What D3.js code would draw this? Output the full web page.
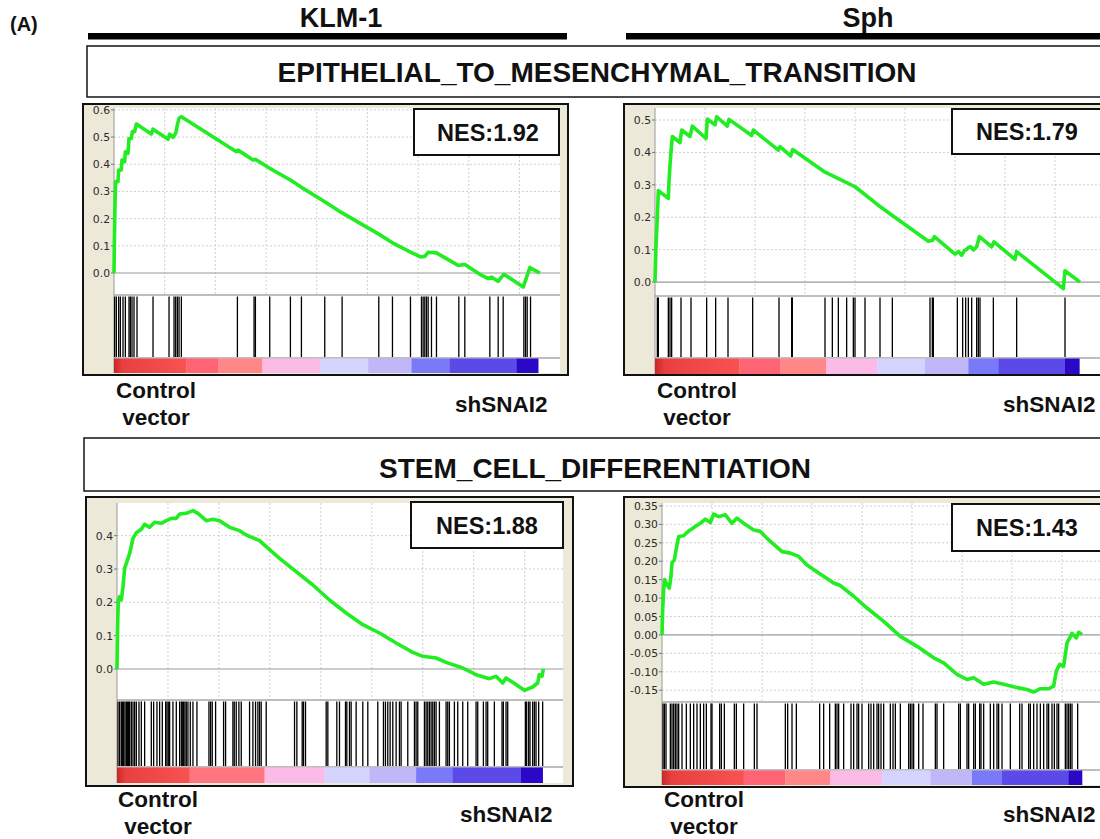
<!DOCTYPE html>
<html><head><meta charset="utf-8">
<script src="https://cdn.jsdelivr.net/npm/d3@7"></script>
<style>body{margin:0;background:#fff}svg{display:block}</style>
</head><body><svg id="c" width="1100" height="839"></svg>
<script>
// ---------------- DATA ----------------
const panelLetter = "(A)";
const cellLines = ["KLM-1", "Sph"];
const geneSets = ["EPITHELIAL_TO_MESENCHYMAL_TRANSITION", "STEM_CELL_DIFFERENTIATION"];
const phenotypeLeft = ["Control", "vector"];
const phenotypeRight = "shSNAI2";
const nesValues = [1.92, 1.79, 1.88, 1.43];

const yTicks1 = [0.0, 0.1, 0.2, 0.3, 0.4, 0.5, 0.6];
const yTicks2 = [0.0, 0.1, 0.2, 0.3, 0.4, 0.5];
const yTicks3 = [0.0, 0.1, 0.2, 0.3, 0.4];
const yTicks4 = [-0.15, -0.10, -0.05, 0.00, 0.05, 0.10, 0.15, 0.20, 0.25, 0.30, 0.35];

// running enrichment score: rank in ordered list, ES
const curve1Rank = [0,16,33,49,82,197,230,362,395,526,559,691,740,855,905,1020,1102,1842,1925,2665,2747,2912,3043,3125,3208,3323,6037,6120,6860,6975,7682,8702,9245,10396,11252,13061,13736,14624,15118,15331,15496,15907,16976,17305,18046,18457,18621,18950,19115,19230,19444,20184,20299,20398,20513,21006];
const curve1ES = [0,0.096,0.182,0.256,0.336,0.336,0.379,0.379,0.416,0.409,0.446,0.44,0.495,0.495,0.52,0.52,0.548,0.511,0.529,0.492,0.511,0.499,0.514,0.545,0.569,0.575,0.446,0.452,0.416,0.418,0.385,0.342,0.315,0.262,0.221,0.143,0.111,0.077,0.059,0.061,0.076,0.074,0.028,0.031,-0.005,-0.021,-0.015,-0.031,-0.015,-0.005,-0.015,-0.052,-0.027,-0.005,0.02,0.0];

const curve2Rank = [0,50,117,167,667,700,750,800,867,1250,1333,1750,1867,2550,2617,3000,3083,3617,3700,4833,4917,6167,6250,6783,6883,8450,8917,9583,10000,10417,11250,11833,13667,13883,13967,15000,15167,15333,15467,15583,15667,15783,15917,16083,16217,16833,16950,18000,18083,20417,20500,21250];
const curve2ES = [0,0.114,0.202,0.282,0.258,0.31,0.361,0.402,0.449,0.43,0.469,0.449,0.481,0.443,0.503,0.485,0.51,0.481,0.502,0.452,0.469,0.407,0.418,0.389,0.409,0.341,0.327,0.307,0.294,0.274,0.233,0.207,0.126,0.129,0.14,0.086,0.094,0.083,0.097,0.101,0.107,0.109,0.099,0.109,0.14,0.109,0.124,0.07,0.094,-0.02,0.035,0.0];

const curve3Rank = [0,33,65,131,212,294,376,458,621,784,948,1193,1356,1601,1846,2173,2418,2663,2909,3072,3399,3726,3971,4379,4706,5033,5523,6013,6340,6994,7320,7974,8791,9608,10425,11242,12059,12876,13693,14510,15000,15654,16144,16961,17615,18268,18595,18922,19085,19412,19984,20392,20637,20719,20850,20915];
const curve3ES = [0,0.138,0.207,0.217,0.207,0.247,0.302,0.317,0.347,0.392,0.409,0.419,0.434,0.425,0.44,0.437,0.445,0.452,0.452,0.465,0.467,0.475,0.467,0.445,0.449,0.445,0.425,0.415,0.402,0.385,0.367,0.332,0.292,0.252,0.207,0.168,0.133,0.108,0.078,0.05,0.038,0.033,0.02,0.003,-0.017,-0.029,-0.022,-0.042,-0.027,-0.04,-0.064,-0.054,-0.042,-0.017,-0.022,0.0];

const curve4Rank = [0,33,83,133,250,367,450,500,617,717,833,1083,1250,1417,1667,1917,2167,2417,2583,2833,3167,3500,3750,4083,4583,4917,5250,6000,6417,6833,7250,7833,8583,8917,9583,10250,11083,11917,12750,13583,14083,14750,15250,15583,16083,16583,17083,17750,18250,18583,18917,19333,19583,19717,19883,20083,20250,20500,20717,20833,21000];
const curve4ES = [0,0.069,0.123,0.15,0.136,0.127,0.159,0.195,0.204,0.235,0.267,0.269,0.278,0.285,0.294,0.303,0.314,0.305,0.328,0.321,0.326,0.303,0.317,0.303,0.285,0.281,0.262,0.226,0.222,0.213,0.19,0.168,0.141,0.134,0.105,0.073,0.037,-0.004,-0.031,-0.062,-0.076,-0.107,-0.121,-0.116,-0.134,-0.128,-0.134,-0.143,-0.148,-0.155,-0.146,-0.146,-0.139,-0.098,-0.08,-0.085,-0.022,0.004,-0.008,0.007,0.001];

// gene-set hit ranks
const hits1 = [33,115,230,313,444,559,740,806,888,987,1135,1925,2714,2961,3043,3126,3208,3323,6087,6909,6975,7682,8702,9245,10396,11252,13061,13736,14624,15167,15249,15331,15414,15496,15660,15907,17009,17305,18539,18950,19197,20217,20299,20381,20546];
const hits2 = [117,167,667,750,833,1300,1800,2583,3033,3650,4883,6200,6833,6867,8500,8867,9167,9583,9917,10000,10500,11250,11867,13750,13867,13917,15117,15383,15533,15667,15833,16083,16167,16250,16917,18083,20500];
const hits3 = [49,131,212,261,327,392,458,507,572,621,703,784,866,948,1078,1193,1356,1683,1797,1961,2091,2222,2386,2451,2516,2582,2745,2909,3072,3154,3203,3268,3333,3399,3480,3595,3726,3922,4510,4592,4673,4837,5229,5327,5686,5752,5850,5980,6095,6503,6667,6797,6912,6994,7075,7320,8709,8824,9085,9150,9248,10262,10343,10784,10915,11209,11275,11405,11487,11732,12059,12304,12794,13072,13170,13284,13399,13530,13693,13856,13938,14265,14592,14673,14755,15082,15164,15245,15327,15409,15490,15572,15654,15817,16144,16226,16307,16552,16716,16961,17206,17615,17697,17974,18105,18186,18513,18889,18954,19085,19167,20033,20098,20196,20262,20392,20474,20556,20686,20882];
const hits4 = [50,117,200,417,500,583,667,750,833,1000,1217,1417,1583,1750,1917,2083,2217,2450,2500,2883,2967,3117,3617,3717,4083,4617,4750,6167,6283,6500,6717,7883,8083,8383,8667,8750,8833,9083,9450,9583,9750,9833,10000,10333,10450,10583,10750,10833,10950,11083,11417,11550,11667,11917,12333,12417,12500,12583,12833,13050,13667,13750,14083,14833,14917,15250,15333,15583,15667,15883,15950,16083,16417,16583,16750,16833,17000,17417,17883,18000,18333,18417,18583,18750,18917,19083,19250,19333,19500,19617,19750,19833,20167,20250,20333,20417,20500,20783];

// ranked-list metric colour bar: segment boundaries (ranks) and colours
const bar1Stops = [0,3570,5132,7320,10150,12535,14673,16565,19855,20924];
const bar2Stops = [0,4217,6250,8550,11117,13500,15667,17167,20500,21217];
const bar3Stops = [0,3562,7238,10180,12386,14673,16471,19820,20882];
const bar4Stops = [0,4083,6167,8417,11000,13417,15500,17000,20333,21000];
const barColors9 = ["url(#redGrad)","#ff6474","#ff8787","#fbbbe6","#d4d4ff","#bfb7f8","#7a7af8","#5b4ae8","#2a08c6"];
const barColors8 = ["url(#redGrad)","#ff7580","#fbbbe6","#d4d4ff","#bfb7f8","#7a7af8","#5b4ae8","#2a08c6"];

// ---------------- DRAWING ----------------
const svg = d3.select("#c");
const BOLD = "'Liberation Sans', Arial, Helvetica, sans-serif";
const defs = svg.append("defs");
const rg = defs.append("linearGradient").attr("id","redGrad");
rg.append("stop").attr("offset","0%").attr("stop-color","#c82828");
rg.append("stop").attr("offset","12%").attr("stop-color","#e84040");
rg.append("stop").attr("offset","100%").attr("stop-color","#f85252");

// header
svg.append("text").attr("x",10).attr("y",31).text(panelLetter)
  .attr("font-family",BOLD).attr("font-weight","bold").attr("font-size",20).attr("fill","#111");
const headerX = [341, 868];
const barSpan = [[88,567],[626,1100]];
cellLines.forEach((c,i)=>{
  svg.append("text").attr("x",headerX[i]).attr("y",27).attr("text-anchor","middle").text(c)
    .attr("font-family",BOLD).attr("font-weight","bold").attr("font-size",27).attr("fill","#111");
  svg.append("rect").attr("x",barSpan[i][0]).attr("y",33).attr("width",barSpan[i][1]-barSpan[i][0]).attr("height",6.5).attr("fill","#000");
});
const setBoxes = [{x:87,y:46,h:51,tx:597,ty:82},{x:84,y:438,h:53,tx:595,ty:478}];
geneSets.forEach((s,i)=>{
  const b = setBoxes[i];
  svg.append("rect").attr("x",b.x).attr("y",b.y).attr("width",1100).attr("height",b.h)
    .attr("fill","#fff").attr("stroke","#222").attr("stroke-width",1.6);
  svg.append("text").attr("x",b.tx).attr("y",b.ty).attr("text-anchor","middle").text(s)
    .attr("font-family",BOLD).attr("font-weight","bold").attr("font-size",28).attr("fill","#111");
});

function drawPanel(p){
  const g = svg.append("g");
  g.append("rect").attr("x",p.ox).attr("y",p.oy).attr("width",p.ow).attr("height",p.oh)
    .attr("fill","#ece9d8").attr("stroke","#111").attr("stroke-width",2);
  const x = d3.scaleLinear().domain([0,p.xMax]).range([p.left,p.right]);
  const y = d3.scaleLinear().domain(p.yDom).range([p.plotBottom,p.top]);
  g.append("rect").attr("x",p.left).attr("y",p.top).attr("width",p.right-p.left).attr("height",p.barBottom-p.top)
    .attr("fill","#fff");
  // grid
  p.ticks.filter(t=>Math.abs(t)>1e-9).forEach(t=>{
    g.append("line").attr("x1",p.left).attr("x2",p.right).attr("y1",y(t)).attr("y2",y(t))
      .attr("stroke","#d0d0d0").attr("stroke-width",1).attr("stroke-dasharray","2,2");
  });
  d3.range(2500,p.xMax,2500).forEach(r=>{
    g.append("line").attr("x1",x(r)).attr("x2",x(r)).attr("y1",p.top).attr("y2",p.plotBottom)
      .attr("stroke","#d0d0d0").attr("stroke-width",1).attr("stroke-dasharray","2,2");
  });
  // zero line and dividers
  g.append("line").attr("x1",p.left).attr("x2",p.right).attr("y1",y(0)).attr("y2",y(0))
    .attr("stroke","#9a9a9a").attr("stroke-width",1.2);
  [p.plotBottom, p.tickBottom].forEach(v=>{
    g.append("line").attr("x1",p.left).attr("x2",p.right).attr("y1",v).attr("y2",v)
      .attr("stroke","#a8a8a8").attr("stroke-width",1.3);
  });
  g.append("line").attr("x1",p.left).attr("x2",p.left).attr("y1",p.top).attr("y2",p.barBottom)
    .attr("stroke","#9a9a9a").attr("stroke-width",1);
  // y axis labels
  const fmt = d3.format(p.fmt);
  p.ticks.forEach(t=>{
    g.append("line").attr("x1",p.left-3).attr("x2",p.left).attr("y1",y(t)).attr("y2",y(t)).attr("stroke","#777");
    g.append("text").attr("x",p.left-4).attr("y",y(t)+4).attr("text-anchor","end")
      .attr("font-family","'DejaVu Sans', Verdana, sans-serif").attr("font-size",10.8).attr("fill","#2a2a2a")
      .text(fmt(t).replace("−","-"));
  });
  // hits
  g.selectAll(null).data(p.hits).enter().append("line")
    .attr("x1",d=>x(d)).attr("x2",d=>x(d)).attr("y1",p.plotBottom+1.5).attr("y2",p.tickBottom-1)
    .attr("stroke","#000").attr("stroke-width",1.3);
  // colour bar
  const segs = p.barColors.map((c,i)=>({a:p.barStops[i], b:p.barStops[i+1], c}));
  g.selectAll(null).data(segs).enter().append("rect")
    .attr("x",d=>x(d.a)).attr("width",d=>x(d.b)-x(d.a)+0.3)
    .attr("y",p.tickBottom+0.5).attr("height",p.barBottom-p.tickBottom-0.5)
    .attr("fill",d=>d.c);
  // curve
  const pts = p.rank.map((r,i)=>[r,p.es[i]]);
  g.append("path").attr("d",d3.line().x(d=>x(d[0])).y(d=>y(d[1]))(pts))
    .attr("fill","none").attr("stroke","#22ec22").attr("stroke-width",3.6).attr("stroke-linejoin","round");
  // NES box
  g.append("rect").attr("x",p.nes.x).attr("y",p.nes.y).attr("width",p.nes.w).attr("height",p.nes.h)
    .attr("fill","#fff").attr("stroke","#111").attr("stroke-width",2);
  g.append("text").attr("x",p.nes.tx).attr("y",p.nes.ty).attr("text-anchor","middle")
    .attr("font-family",BOLD).attr("font-weight","bold").attr("font-size",23.5).attr("fill","#111")
    .text("NES:" + d3.format(".2f")(p.nesValue));
  // phenotype labels
  phenotypeLeft.forEach((t,i)=>{
    g.append("text").attr("x",p.lab.cx).attr("y",p.lab.cy + i*27).attr("text-anchor","middle")
      .attr("font-family",BOLD).attr("font-weight","bold").attr("font-size",22.5).attr("fill","#111").text(t);
  });
  g.append("text").attr("x",p.lab.sx).attr("y",p.lab.sy).attr("text-anchor","start")
    .attr("font-family",BOLD).attr("font-weight","bold").attr("font-size",22.5).attr("fill","#111").text(phenotypeRight);
}

drawPanel({ox:83,oy:104,ow:485,oh:271,left:114,right:560,top:108,plotBottom:295,tickBottom:358,barBottom:373,
  xMax:22000,yDom:[-0.081,0.607],ticks:yTicks1,fmt:".1f",rank:curve1Rank,es:curve1ES,hits:hits1,
  barStops:bar1Stops,barColors:barColors9,nesValue:nesValues[0],
  nes:{x:414,y:109,w:145,h:46,tx:488,ty:141},lab:{cx:156,cy:398,sx:455,sy:412}});
drawPanel({ox:624,oy:104,ow:500,oh:271,left:655,right:1105,top:108,plotBottom:296,tickBottom:358,barBottom:374,
  xMax:22500,yDom:[-0.043,0.537],ticks:yTicks2,fmt:".1f",rank:curve2Rank,es:curve2ES,hits:hits2,
  barStops:bar2Stops,barColors:barColors9,nesValue:nesValues[1],
  nes:{x:952,y:109,w:170,h:45,tx:1027,ty:140},lab:{cx:697,cy:398,sx:1003,sy:412}});
drawPanel({ox:86,oy:497,ow:487,oh:289,left:117,right:563,top:503,plotBottom:700,tickBottom:767,barBottom:783,
  xMax:21880,yDom:[-0.093,0.498],ticks:yTicks3,fmt:".1f",rank:curve3Rank,es:curve3ES,hits:hits3,
  barStops:bar3Stops,barColors:barColors8,nesValue:nesValues[2],
  nes:{x:411,y:502,w:152,h:46,tx:487,ty:534},lab:{cx:158,cy:807,sx:460,sy:822}});
drawPanel({ox:624,oy:497,ow:500,oh:290,left:662,right:1105,top:503,plotBottom:702,tickBottom:770,barBottom:785,
  xMax:22150,yDom:[-0.182,0.358],ticks:yTicks4,fmt:".2f",rank:curve4Rank,es:curve4ES,hits:hits4,
  barStops:bar4Stops,barColors:barColors9,nesValue:nesValues[3],
  nes:{x:952,y:504,w:170,h:47,tx:1027,ty:536},lab:{cx:704,cy:807,sx:1003,sy:822}});
</script></body></html>
